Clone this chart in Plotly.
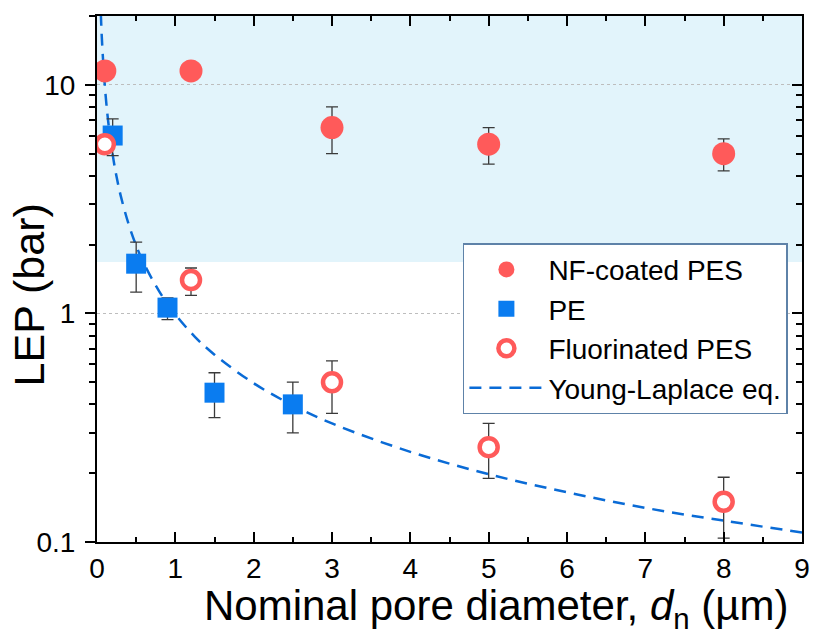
import plotly.graph_objects as go
import math

# ---------------- data ----------------
nf_x = [0.1, 1.2, 3, 5, 8]
nf_y = [11.5, 11.5, 6.5, 5.5, 5.0]
nf_err_plus = [0, 0, 1.5, 1.0, 0.8]
nf_err_minus = [0, 0, 1.5, 1.0, 0.8]

pe_x = [0.2, 0.5, 0.9, 1.5, 2.5]
pe_y = [6.0, 1.65, 1.06, 0.45, 0.40]
pe_err_plus = [1.1, 0.40, 0.11, 0.10, 0.10]
pe_err_minus = [1.1, 0.41, 0.12, 0.10, 0.10]

fl_x = [0.1, 1.2, 3, 5, 8]
fl_y = [5.5, 1.4, 0.5, 0.26, 0.15]
fl_err_plus = [0, 0.18, 0.12, 0.07, 0.042]
fl_err_minus = [0, 0.20, 0.135, 0.07, 0.046]

# Young-Laplace curve, values
yl_x = [0.04, 0.05, 0.06, 0.08, 0.1, 0.125, 0.15, 0.2, 0.25, 0.3, 0.4, 0.5, 0.6,
        0.8, 1.0, 1.25, 1.5, 2.0, 2.5, 3.0, 4.0, 5.0, 6.0, 7.0, 8.0, 9.0]
yl_y = [25.0, 20.0, 16.5, 12.4, 9.9, 7.9, 6.6, 4.95, 3.96, 3.3, 2.48, 1.98, 1.65,
        1.24, 0.99, 0.79, 0.66, 0.495, 0.396, 0.33, 0.248, 0.198, 0.165, 0.141, 0.124, 0.11]

band_low = 1.68
band_high = 20

x_range = [0, 9]
y_range_vals = [0.1, 20]

RED = "#FF5A5A"
BLUE = "#0A7CF0"
LINE_BLUE = "#0A6BD6"
FONT = "Arial, Liberation Sans, sans-serif"

fig = go.Figure()

fig.add_trace(go.Scatter(
    x=yl_x, y=yl_y, mode="lines", name="Young-Laplace eq.",
    line=dict(color=LINE_BLUE, width=2.5, dash="12px,8px", shape="spline"),
    legendrank=4, legendgroup="d"))

err_style = dict(type="data", color="#3a3a3a", thickness=1.3, width=6, symmetric=False)

fig.add_trace(go.Scatter(
    x=nf_x, y=nf_y, mode="markers", name="NF-coated PES",
    marker=dict(symbol="circle", size=23, color=RED, line=dict(width=0)),
    error_y=dict(array=nf_err_plus, arrayminus=nf_err_minus, **err_style),
    legendrank=1, legendgroup="a"))

fig.add_trace(go.Scatter(
    x=pe_x, y=pe_y, mode="markers", name="PE",
    marker=dict(symbol="square", size=20, color=BLUE, line=dict(width=0)),
    error_y=dict(array=pe_err_plus, arrayminus=pe_err_minus, **err_style),
    legendrank=2, legendgroup="b"))

fig.add_trace(go.Scatter(
    x=fl_x, y=fl_y, mode="markers", name="Fluorinated PES",
    marker=dict(symbol="circle", size=18, color="white", line=dict(width=4.5, color=RED)),
    error_y=dict(array=fl_err_plus, arrayminus=fl_err_minus, **err_style),
    legendrank=3, legendgroup="c"))

# shaded band
fig.add_shape(type="rect", xref="paper", yref="y", x0=0, x1=1,
              y0=band_low, y1=band_high, fillcolor="#E2F4FB", line=dict(width=0),
              layer="below")

yr = [math.log10(y_range_vals[0]), math.log10(y_range_vals[1])]

fig.update_layout(
    width=821, height=637,
    margin=dict(l=97, r=11, t=16, b=95),
    paper_bgcolor="white", plot_bgcolor="white",
    font=dict(family=FONT, color="black"),
    showlegend=True,
    legend=dict(
        x=0.519, y=0.568, xanchor="left", yanchor="top",
        bgcolor="white", bordercolor="#5E82A8", borderwidth=1.5,
        font=dict(size=28, family=FONT, color="black"),
        itemwidth=74, tracegroupgap=0, traceorder="grouped",
    ),
    xaxis=dict(
        range=x_range, tickmode="linear", tick0=0, dtick=1,
        ticks="inside", ticklen=10, tickwidth=1.8, tickcolor="black",
        showline=True, linecolor="black", linewidth=2, mirror="ticks",
        showgrid=False, zeroline=False,
        tickfont=dict(size=28, family=FONT, color="black"),
        minor=dict(dtick=0.5, ticks="inside", ticklen=5, tickwidth=1.5, tickcolor="black", showgrid=False),
    ),
    yaxis=dict(
        type="log", range=yr, tickvals=[0.1, 1, 10], ticktext=["0.1", "1", "10"],
        ticks="outside", ticklen=10, tickwidth=1.8, tickcolor="black",
        showline=True, linecolor="black", linewidth=2, mirror=True,
        showgrid=True, gridcolor="#BDBDBD", griddash="dot", gridwidth=1,
        zeroline=False, ticklabelstandoff=4,
        tickfont=dict(size=28, family=FONT, color="black"),
        minor=dict(dtick="D1", ticks="outside", ticklen=6, tickwidth=1.5, tickcolor="black", showgrid=False),
    ),
    yaxis2=dict(
        type="log", range=yr, overlaying="y", side="right",
        tickvals=[0.1, 1, 10], showticklabels=False,
        ticks="inside", ticklen=10, tickwidth=1.8, tickcolor="black",
        showline=False, showgrid=False, zeroline=False,
        minor=dict(dtick="D1", ticks="inside", ticklen=6, tickwidth=1.5, tickcolor="black", showgrid=False),
    ),
    annotations=[
        dict(text="LEP (bar)", xref="paper", yref="paper", x=-0.097, y=0.47,
             textangle=-90, showarrow=False, xanchor="center", yanchor="middle",
             font=dict(size=43, family=FONT, color="black")),
        dict(text="Nominal pore diameter, <i>d</i><sub>n</sub> (µm)", xref="paper", yref="paper",
             x=0.566, y=-0.127, showarrow=False, xanchor="center", yanchor="middle",
             font=dict(size=42, family=FONT, color="black")),
    ],
)

# hidden helper trace so the right-hand tick axis is drawn
fig.add_trace(go.Scatter(x=[None], y=[None], yaxis="y2", showlegend=False, hoverinfo="skip"))

fig.write_html("out.html")
